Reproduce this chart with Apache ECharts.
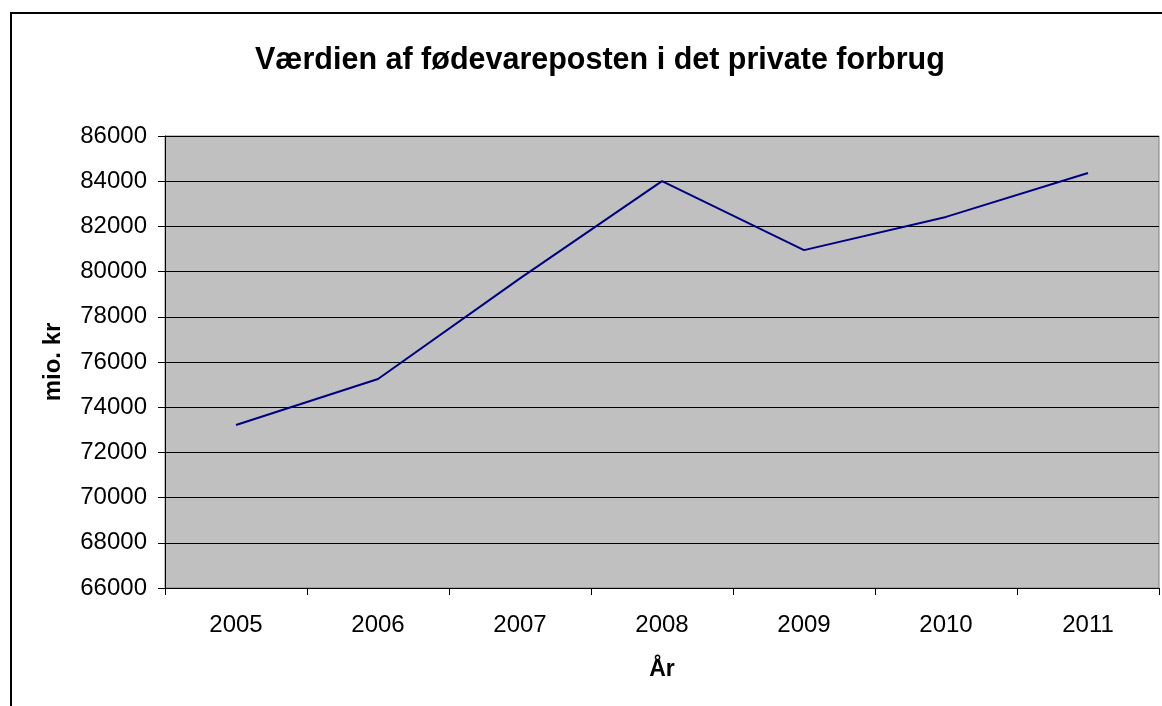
<!DOCTYPE html>
<html lang="da">
<head>
  <meta charset="UTF-8">
  <title>Værdien af fødevareposten</title>
  <style>
    html, body { margin: 0; padding: 0; background: #fff; }
    #chart { width: 1162px; height: 706px; }
  </style>
</head>
<body>
  <div id="chart"></div>

  <script src="https://cdn.jsdelivr.net/npm/echarts@6/dist/echarts.min.js"></script>
  <script>
    // values (mio. kr)
    var years = ['2005', '2006', '2007', '2008', '2009', '2010', '2011'];
    var foodValue = [73210, 75250, 79700, 84000, 80950, 82420, 84360];
    var yMin = 66000;
    var yMax = 86000;
    var yStep = 2000;

    var myChart = echarts.init(document.getElementById('chart'));

    var font = 'Liberation Sans, Arial, sans-serif';

    var option = {
      animation: false,
      backgroundColor: '#fff',
      title: {
        text: 'Værdien af fødevareposten i det private forbrug',
        left: 250,
        top: 40,
        textStyle: { fontFamily: font, fontSize: 30.5, fontWeight: 'bold', color: '#000' }
      },
      // outer chart frame, cut off on the right and bottom
      graphic: [{
        type: 'rect',
        shape: { x: 11, y: 13, width: 1300, height: 900 },
        style: { fill: 'none', stroke: '#000', lineWidth: 2 },
        silent: true
      }],
      grid: {
        left: 165,
        top: 136,
        width: 994,
        height: 452,
        show: true,
        backgroundColor: '#c0c0c0',
        borderColor: '#808080',
        borderWidth: 1
      },
      xAxis: {
        type: 'category',
        data: years,
        boundaryGap: true,
        name: 'År',
        nameLocation: 'middle',
        nameGap: 70,
        nameTextStyle: { fontFamily: font, fontSize: 23, fontWeight: 'bold', color: '#000' },
        axisLine: { lineStyle: { color: '#000', width: 1 } },
        axisTick: { show: true, length: 7, lineStyle: { color: '#000' } },
        axisLabel: { fontFamily: font, fontSize: 24, color: '#000', margin: 25 },
        splitLine: { show: false }
      },
      yAxis: {
        type: 'value',
        min: yMin,
        max: yMax,
        interval: yStep,
        name: 'mio. kr',
        nameLocation: 'middle',
        nameRotate: 90,
        nameGap: 100,
        nameTextStyle: { fontFamily: font, fontSize: 24, fontWeight: 'bold', color: '#000' },
        axisLine: { show: true, lineStyle: { color: '#000', width: 1 } },
        axisTick: { show: true, length: 7, lineStyle: { color: '#000' } },
        axisLabel: {
          fontFamily: font, fontSize: 24, color: '#000', margin: 18,
          formatter: function (v) { return String(v); }
        },
        splitLine: { show: true, lineStyle: { color: '#000', width: 1 } }
      },
      series: [{
        name: 'Fødevarer',
        type: 'line',
        data: foodValue,
        symbol: 'none',
        lineStyle: { color: '#000080', width: 2 }
      }]
    };

    myChart.setOption(option);
  </script>
</body>
</html>
